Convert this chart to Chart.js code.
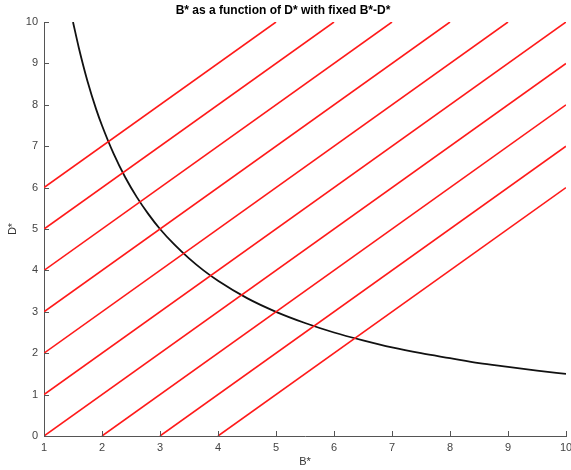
<!DOCTYPE html>
<html><head><meta charset="utf-8">
<style>html,body{margin:0;padding:0;background:#fff}#wrap{width:571px;height:470px;position:relative}</style>
<script src="https://cdn.jsdelivr.net/npm/chart.js@4"></script>
</head><body><div id="wrap"><canvas id="c" width="571" height="470"></canvas></div>
<script>
const xTicks = [1,2,3,4,5,6,7,8,9,10];
const yTicks = [0,1,2,3,4,5,6,7,8,9,10];
// red lines: D* = B* - k, endpoints
const lineStarts = [[1,6],[1,5],[1,4],[1,3],[1,2],[1,1],[1,0],[2,0],[3,0],[4,0]];
const lineEnds   = [[5,10],[6,10],[7,10],[8,10],[9,10],[10,10],[10,9],[10,8],[10,7],[10,6]];
// black curve points
const curveB = [1.5,1.6,1.75,1.9,2,2.2,2.4,2.6,2.8,3,3.25,3.5,3.75,4,4.5,5,5.5,6,6.5,7,7.5,8,8.5,9,9.5,10];
const curveD = [10,9.38,8.57,7.89,7.5,6.82,6.25,5.77,5.36,5,4.62,4.29,4,3.75,3.33,3,2.73,2.5,2.31,2.14,2,1.88,1.76,1.67,1.58,1.5];

const FONT = "'Liberation Sans', Arial, Helvetica, sans-serif";
const datasets = lineStarts.map((s,i)=>({
  data:[{x:s[0],y:s[1]},{x:lineEnds[i][0],y:lineEnds[i][1]}],
  borderColor:'#ff1a1a', borderWidth:1.6, pointRadius:0, showLine:true, fill:false
}));
datasets.push({
  data: curveB.map((b,i)=>({x:b,y:curveD[i]})),
  borderColor:'#111', borderWidth:1.8, pointRadius:0, showLine:true, fill:false, cubicInterpolationMode:'monotone'
});

const inwardTicks = {
  id:'inwardTicks',
  afterDraw(chart){
    const ctx = chart.ctx, xs = chart.scales.x, ys = chart.scales.y, a = chart.chartArea;
    ctx.save(); ctx.strokeStyle='#555'; ctx.lineWidth=1;
    ctx.beginPath();
    xTicks.forEach(v=>{const p=Math.round(xs.getPixelForValue(v))+0.5; ctx.moveTo(p,a.bottom); ctx.lineTo(p,a.bottom-5);});
    yTicks.forEach(v=>{const p=Math.round(ys.getPixelForValue(v))+0.5; ctx.moveTo(a.left,p); ctx.lineTo(a.left+5,p);});
    ctx.stroke(); ctx.restore();
  }
};

new Chart(document.getElementById('c'), {
  type:'scatter',
  data:{datasets},
  options:{
    responsive:false, animation:false,
    layout:{padding:{left:0,right:5,top:0,bottom:0}},
    plugins:{
      legend:{display:false}, tooltip:{enabled:false},
      title:{display:true, text:'B* as a function of D* with fixed B*-D*', color:'#000',
        font:{family:FONT,size:12,weight:'bold'}, padding:{top:3,bottom:4.6}}
    },
    scales:{
      x:{type:'linear', min:1, max:10,
        afterBuildTicks(s){s.ticks = xTicks.map(v=>({value:v}));},
        afterFit(s){s.height=34; s.paddingLeft=0; s.paddingRight=0;},
        grid:{display:false, drawTicks:false},
        border:{display:true,color:'#555',width:1},
        ticks:{color:'#444',font:{family:FONT,size:11},padding:5, maxRotation:0, autoSkip:false},
        title:{display:true,text:'B*',color:'#333',font:{family:FONT,size:11},padding:{top:0,bottom:1}}
      },
      y:{type:'linear', min:0, max:10,
        afterBuildTicks(s){s.ticks = yTicks.map(v=>({value:v}));},
        afterFit(s){s.width=44; s.paddingTop=0; s.paddingBottom=0;},
        grid:{display:false, drawTicks:false},
        border:{display:true,color:'#555',width:1},
        ticks:{color:'#444',font:{family:FONT,size:11},padding:6, autoSkip:false},
        title:{display:true,text:'D*',color:'#333',font:{family:FONT,size:11},padding:{top:6,bottom:6}}
      }
    }
  },
  plugins:[inwardTicks]
});
</script></body></html>
